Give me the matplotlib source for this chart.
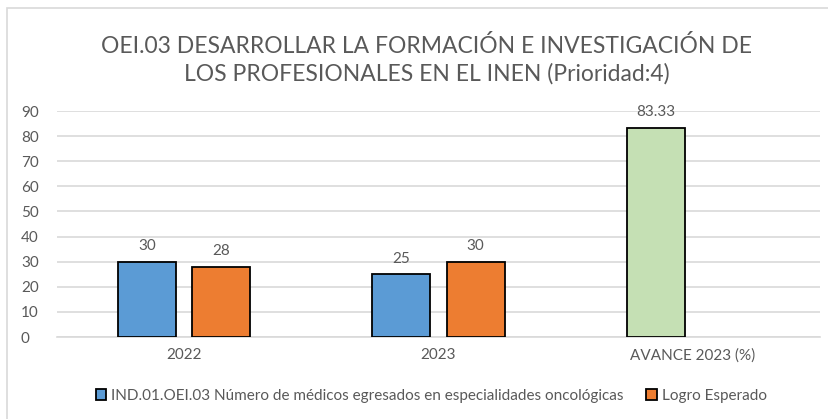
"""
OEI.03 indicator chart: achieved vs expected graduates, plus 2023 progress.

Output:
    out.png
"""

import matplotlib.pyplot as plt
from matplotlib.patches import Rectangle

categories = ["2022", "2023", "AVANCE 2023 (%)"]
indicador = [30, 25, 83.33]
logro_esperado = [28, 30, None]
indicador_labels = ["30", "25", "83.33"]
logro_labels = ["28", "30", None]

serie_1 = "IND.01.OEI.03 Número de médicos egresados en especialidades oncológicas"
serie_2 = "Logro Esperado"
title = ("OEI.03 DESARROLLAR LA FORMACIÓN E INVESTIGACIÓN DE\n"
         "LOS PROFESIONALES EN EL INEN (Prioridad:4)")

BLUE = "#5B9BD5"
ORANGE = "#ED7D31"
GREEN = "#C5E0B4"
TEXT = "#595959"
GRID = "#D9D9D9"

plt.rcParams["font.family"] = ["Lato", "DejaVu Sans"]

fig = plt.figure(figsize=(8.29, 4.19), dpi=100)
fig.patches.append(Rectangle((7 / 829, -0.05), 1.0, 1 - 8 / 419 + 0.05,
                             transform=fig.transFigure, fill=False,
                             edgecolor=GRID, linewidth=1.2))

ax = fig.add_axes([57 / 829, 1 - 337 / 419, (820 - 57) / 829, (337 - 111) / 419])

width = 0.229
offset = 0.146
x = list(range(len(categories)))

blue_colors = [BLUE, BLUE, GREEN]
bars1 = ax.bar([i - offset for i in x], indicador, width=width,
               color=blue_colors, edgecolor="black", linewidth=1.3,
               label=serie_1, zorder=3)
x2 = [i + offset for i, v in zip(x, logro_esperado) if v is not None]
v2 = [v for v in logro_esperado if v is not None]
bars2 = ax.bar(x2, v2, width=width, color=ORANGE, edgecolor="black",
               linewidth=1.3, label=serie_2, zorder=3)

ax.bar_label(bars1, labels=indicador_labels, padding=6, color=TEXT, fontsize=11)
ax.bar_label(bars2, labels=[l for l in logro_labels if l is not None],
             padding=6, color=TEXT, fontsize=11)

ax.set_xlim(-0.5, 2.5)
ax.set_ylim(0, 90)
ax.set_yticks(range(0, 91, 10))
ax.set_xticks(x)
ax.set_xticklabels(categories)
ax.tick_params(axis="both", length=0, colors=TEXT, labelsize=11)
ax.tick_params(axis="x", pad=8)
ax.tick_params(axis="y", pad=26)
for lbl in ax.get_yticklabels():
    lbl.set_horizontalalignment("left")

ax.grid(axis="y", color=GRID, linewidth=1.2, zorder=0)
for side in ["top", "right", "left"]:
    ax.spines[side].set_visible(False)
ax.spines["bottom"].set_color(GRID)
ax.spines["bottom"].set_linewidth(1.2)

fig.text(0.515, 1 - 60 / 419, title, ha="center", va="center",
         fontsize=16.5, color=TEXT, linespacing=1.33)

leg = fig.legend(handles=[bars1[0], bars2[0]], labels=[serie_1, serie_2],
                 loc="center", bbox_to_anchor=(0.52, 1 - 396 / 419), ncol=2,
                 frameon=False, fontsize=11, handlelength=0.7,
                 handleheight=0.7, handletextpad=0.3, columnspacing=1.5)
for t in leg.get_texts():
    t.set_color(TEXT)

fig.savefig("out.png", dpi=100)
plt.close(fig)
